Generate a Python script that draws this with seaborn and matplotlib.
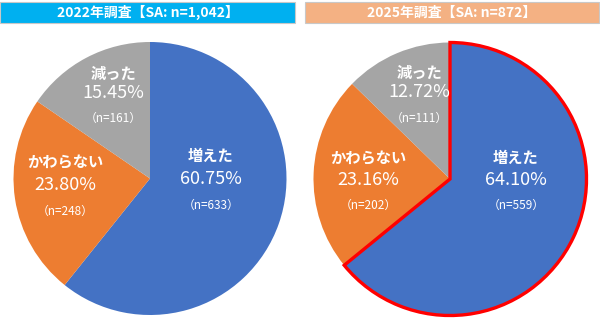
import matplotlib
matplotlib.use("Agg")
import matplotlib.pyplot as plt
from matplotlib.patches import Rectangle
import seaborn as sns

# ---- data ----
categories = ["増えた", "かわらない", "減った"]
pct_2022 = [60.75, 23.80, 15.45]
n_2022 = [633, 248, 161]
pct_2025 = [64.10, 23.16, 12.72]
n_2025 = [559, 202, 111]
titles = ["2022年調査【SA: n=1,042】", "2025年調査【SA: n=872】"]

# ---- style ----
sns.set_theme(style="white")
plt.rcParams["font.family"] = ["Noto Sans CJK JP", "DejaVu Sans"]
palette = sns.color_palette(["#4472C4", "#ED7D31", "#A5A5A5"])
header_colors = ["#00B0F0", "#F4B183"]

W, H = 600, 325
fig = plt.figure(figsize=(6, 3.25), dpi=100)
ax = fig.add_axes([0, 0, 1, 1])

# layout (pixel coords, y from top)
centers = [(150, 178.5), (450, 179)]
radius = 136.5
header_x = [(0, 295), (305, 599)]
header_y = (2, 23)
# label offsets from pie centre: (dx, dy_name, dy_pct, dy_n)
label_offsets = [
    [(61, -23, 0, 27), (-85, -16, 7, 33), (-37, -105, -85, -60)],
    [(66, -21, 1, 26), (-82, -21, 1, 26), (-31, -106, -87, -61)],
]

datasets = [(pct_2022, n_2022), (pct_2025, n_2025)]

for i, (pcts, ns) in enumerate(datasets):
    cx, cy = centers[i]
    wedges, _ = ax.pie(pcts, colors=palette, startangle=90, counterclock=False,
                       center=(cx, H - cy), radius=radius,
                       wedgeprops=dict(linewidth=0))
    if i == 1:
        wedges[0].set_edgecolor("#FF0000")
        wedges[0].set_linewidth(2.4)
        wedges[0].set_zorder(5)
        wedges[0].set_joinstyle("miter")
    for j, cat in enumerate(categories):
        dx, dyn, dyp, dyc = label_offsets[i][j]
        ax.text(cx + dx, H - (cy + dyn), cat, color="white", fontsize=11,
                fontweight="bold", ha="center", va="center", zorder=10)
        ax.text(cx + dx, H - (cy + dyp), f"{pcts[j]:.2f}%", color="white",
                fontsize=13, ha="center", va="center", zorder=10)
        ax.text(cx + dx, H - (cy + dyc), f"（n={ns[j]}）", color="white",
                fontsize=8.5, ha="center", va="center", zorder=10)
    # header bar
    x0, x1 = header_x[i]
    ax.add_patch(Rectangle((x0, H - header_y[1]), x1 - x0, header_y[1] - header_y[0],
                           facecolor=header_colors[i], edgecolor="#C8C8C8",
                           linewidth=0.8, zorder=3))
    ax.text((x0 + x1) / 2, H - (header_y[0] + header_y[1]) / 2, titles[i],
            color="white", fontsize=10, fontweight="bold",
            ha="center", va="center", zorder=4)

ax.set_xlim(0, W)
ax.set_ylim(0, H)
ax.set_aspect("auto")
ax.axis("off")

fig.savefig("out.png", dpi=100)
